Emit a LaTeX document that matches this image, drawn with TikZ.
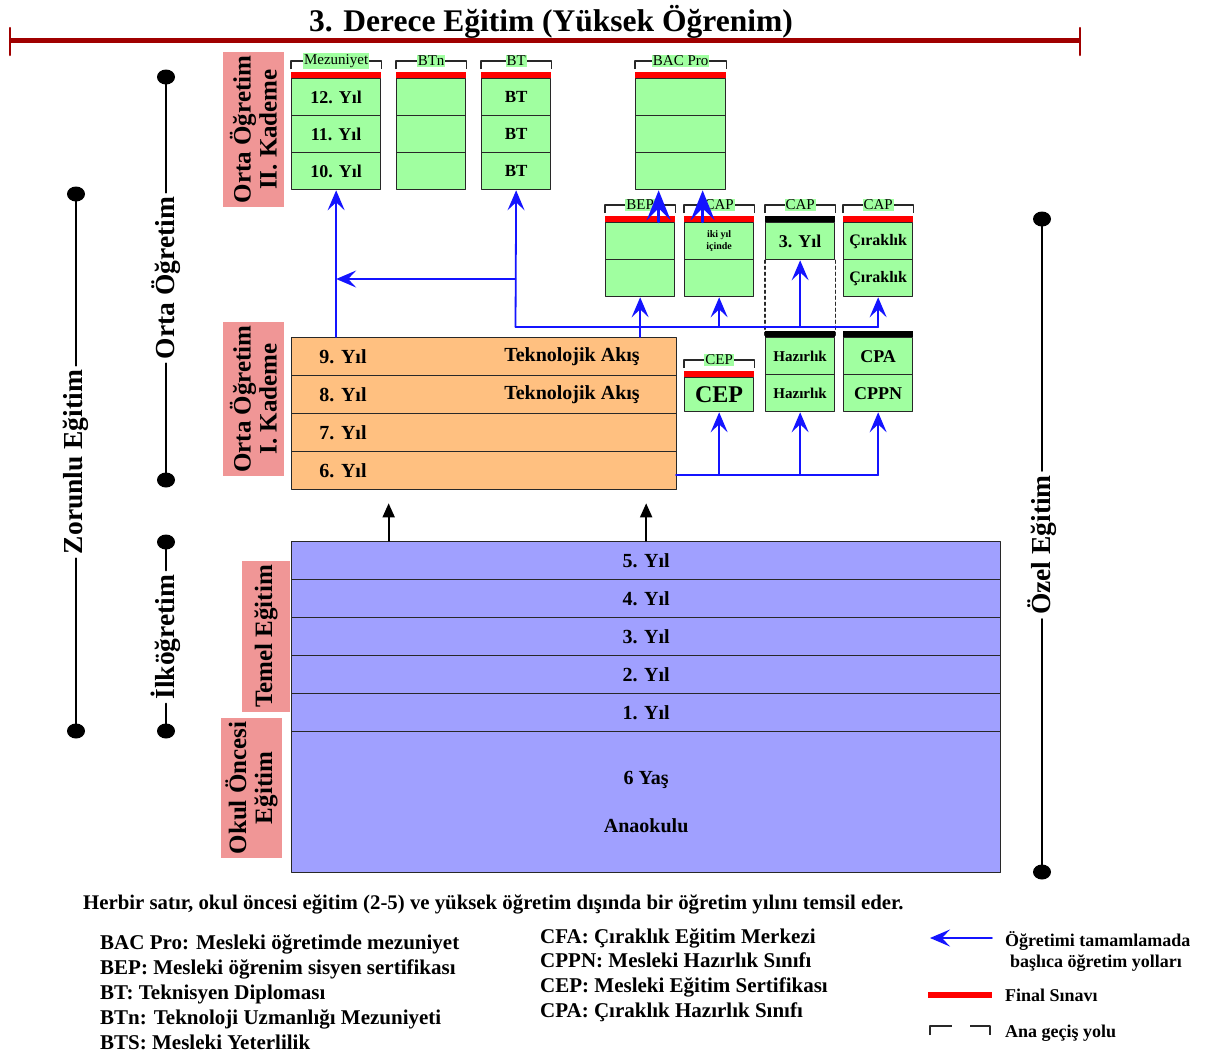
\documentclass[tikz,border=0pt]{standalone}
\usepackage{fontspec}
\setmainfont{Liberation Serif}
\usetikzlibrary{arrows.meta}
\definecolor{SchoolDarkRed}{RGB}{160,0,0}
\definecolor{SchoolPink}{RGB}{240,150,150}
\definecolor{SchoolGreen}{RGB}{160,255,160}
\definecolor{SchoolOrange}{RGB}{255,192,128}
\definecolor{SchoolLilac}{RGB}{160,160,255}
\definecolor{SchoolRed}{RGB}{255,0,0}
\definecolor{SchoolBlue}{RGB}{20,20,255}
\definecolor{SchoolLine}{RGB}{40,40,40}

\begin{document}
\begin{tikzpicture}[x=1bp,y=-1bp,line cap=round,line join=round]
  \path[use as bounding box] (0,0) rectangle (1205,1054);
  \fill[white] (0,0) rectangle (1205,1054);

  \tikzset{
    greencell/.style={draw=SchoolLine,line width=1.3bp,fill=SchoolGreen,inner sep=0pt,
      anchor=north west,minimum height=37bp,align=center,
      font=\fontsize{18bp}{18bp}\selectfont\bfseries},
    bandcell/.style={greencell,fill=SchoolOrange,minimum width=385bp,minimum height=38bp},
    basecell/.style={greencell,fill=SchoolLilac,minimum width=709bp,minimum height=38bp,
      font=\fontsize{20bp}{20bp}\selectfont\bfseries},
    yeartext/.style={inner sep=0pt,font=\fontsize{20bp}{20bp}\selectfont\bfseries},
    stagetag/.style={fill=SchoolPink,rotate=90,inner sep=0pt,align=center,
      font=\fontsize{25bp}{26bp}\selectfont\bfseries},
    sidetag/.style={rotate=90,inner sep=4bp,font=\fontsize{27.5bp}{27.5bp}\selectfont\bfseries},
    scalebar/.style={line width=2bp,draw=black},
    gate/.style={line width=1.6bp,draw=SchoolLine,line cap=butt},
    gatetag/.style={fill=SchoolGreen,inner sep=1bp,font=\fontsize{15bp}{15bp}\selectfont},
    pathline/.style={draw=SchoolBlue,line width=1.8bp},
    pathway/.style={pathline,-{Stealth[length=20bp,width=17bp,inset=8bp]}},
    bigpathway/.style={pathline,line width=2.4bp,-{Stealth[length=30bp,width=24bp,inset=12bp]}},
    stagearrow/.style={draw=black,line width=1.8bp,-{Triangle[length=14bp,width=12bp]},
      shorten >=13bp},
    legend/.style={anchor=base west,inner sep=0pt,
      font=\fontsize{21bp}{21bp}\selectfont\bfseries},
    keytext/.style={anchor=base west,inner sep=0pt,
      font=\fontsize{18bp}{18bp}\selectfont\bfseries},
  }

  % 3. Derece
  \node[inner sep=0pt,font=\fontsize{31.5bp}{31.5bp}\selectfont\bfseries] (degree)
    at (551,22) {3. Derece Eğitim (Yüksek Öğrenim)};
  \coordinate (degL) at (10,40);
  \coordinate (degR) at (1080,40);
  \draw[SchoolDarkRed,line width=5bp,line cap=butt] (degL) -- (degR);
  \draw[SchoolDarkRed,line width=2.5bp] ([yshift=12bp]degL) -- ([yshift=-15bp]degL);
  \draw[SchoolDarkRed,line width=2.5bp] ([yshift=12bp]degR) -- ([yshift=-15bp]degR);

  % side scales
  \foreach \name/\x/\top/\mid/\bot/\txt in {zorunlu/76/194/462/731/Zorunlu Eğitim,
      orta/166/77/278/480/Orta Öğretim,ilk/166/542/637/731/İlköğretim,
      ozel/1042/219/545/872/Özel Eğitim} {
    \coordinate (\name-top) at (\x,\top);
    \coordinate (\name-bot) at (\x,\bot);
    \node[sidetag] (\name) at (\x,\mid) {\txt};
    \draw[scalebar] (\name-top) -- (\name.east) (\name.west) -- (\name-bot);
    \fill (\name-top) circle[x radius=9bp,y radius=7.5bp];
    \fill (\name-bot) circle[x radius=9bp,y radius=7.5bp];
  }

  % stage tags
  \node[stagetag,minimum width=155bp,minimum height=61bp] (ortaII)
    at (253.5,129.5) {Orta Öğretim\\II. Kademe};
  \node[stagetag,minimum width=154bp,minimum height=61bp] (ortaI)
    at (253.5,399) {Orta Öğretim\\I. Kademe};
  \node[stagetag,minimum width=151bp,minimum height=48bp] (temel)
    at (266,636.5) {Temel Eğitim};
  \node[stagetag,minimum width=140bp,minimum height=61bp] (okul)
    at (251.5,788) {Okul Öncesi\\Eğitim};

  % upper columns
  \foreach \name/\row/\txt in {mez12/0/12. Yıl,mez11/1/11. Yıl,mez10/2/10. Yıl}
    \node[greencell,minimum width=89bp] (\name) at (291,{78+37*\row}) {\txt};
  \foreach \name/\row in {btn1/0,btn2/1,btn3/2}
    \node[greencell,minimum width=69bp] (\name) at (396,{78+37*\row}) {};
  \foreach \name/\row in {bt1/0,bt2/1,bt3/2}
    \node[greencell,minimum width=69bp,font=\fontsize{17bp}{17bp}\selectfont\bfseries]
      (\name) at (481,{78+37*\row}) {BT};
  \foreach \name/\row in {bac1/0,bac2/1,bac3/2}
    \node[greencell,minimum width=90bp] (\name) at (635,{78+37*\row}) {};

  % vocational columns
  \node[greencell,minimum width=69bp] (bep1) at (605,222) {};
  \node[greencell,minimum width=69bp] (bep2) at (605,259) {};
  \node[greencell,minimum width=69bp,font=\fontsize{10bp}{12bp}\selectfont\bfseries]
    (capA1) at (684,222) {iki yıl\\içinde};
  \node[greencell,minimum width=69bp] (capA2) at (684,259) {};
  \node[greencell,minimum width=69bp] (cap3) at (765,222) {3. Yıl};
  \node[greencell,minimum width=69bp,font=\fontsize{16bp}{16bp}\selectfont\bfseries]
    (capC1) at (843,222) {Çıraklık};
  \node[greencell,minimum width=69bp,font=\fontsize{16bp}{16bp}\selectfont\bfseries]
    (capC2) at (843,259) {Çıraklık};
  \node[greencell,minimum width=69bp,minimum height=34bp,
    font=\fontsize{24bp}{24bp}\selectfont\bfseries] (cep) at (684,377) {CEP};
  \node[greencell,minimum width=69bp,font=\fontsize{15bp}{15bp}\selectfont\bfseries]
    (haz1) at (765,337) {Hazırlık};
  \node[greencell,minimum width=69bp,font=\fontsize{15bp}{15bp}\selectfont\bfseries]
    (haz2) at (765,374) {Hazırlık};
  \node[greencell,minimum width=69bp] (cpa) at (843,337) {CPA};
  \node[greencell,minimum width=69bp] (cppn) at (843,374) {CPPN};
  \draw[SchoolLine,line width=1.3bp,dash pattern=on 3bp off 3bp]
    (cap3.south west) -- (haz1.north west) (cap3.south east) -- (haz1.north east);

  % final exams and gates
  \foreach \c in {mez12,btn1,bt1,bac1,bep1,capA1,capC1,cep}
    \fill[SchoolRed] (\c.north west) rectangle ([yshift=6bp]\c.north east);
  \foreach \c in {cap3,haz1,cpa}
    \fill[black] (\c.north west) rectangle ([yshift=6bp]\c.north east);
  \foreach \c/\lab in {mez12/Mezuniyet,btn1/BTn,bt1/BT,bac1/BAC Pro,bep1/BEP,
      capA1/CAP,cap3/CAP,capC1/CAP,cep/CEP} {
    \draw[gate] ([yshift=9bp]\c.north west) |- ([yshift=17bp]\c.north)
      -| ([yshift=9bp]\c.north east);
    \node[gatetag] (\c-tag) at ([yshift=17bp]\c.north) {\lab};
  }

  % Orta Öğretim I
  \foreach \name/\row in {og9/0,og8/1,og7/2,og6/3}
    \node[bandcell] (\name) at (291,{337+38*\row}) {};
  \foreach \name/\txt in {og9/9. Yıl,og8/8. Yıl,og7/7. Yıl,og6/6. Yıl}
    \node[yeartext] (\name-yr) at ([xshift=52bp]\name.west) {\txt};
  \node[yeartext] (og9-flow) at ([xshift=281bp]og9.west) {Teknolojik Akış};
  \node[yeartext] (og8-flow) at ([xshift=281bp]og8.west) {Teknolojik Akış};

  % Temel Eğitim
  \foreach \name/\row/\txt in {t5/0/5. Yıl,t4/1/4. Yıl,t3/2/3. Yıl,t2/3/2. Yıl,t1/4/1. Yıl}
    \node[basecell] (\name) at (291,{541+38*\row}) {\txt};
  \node[basecell,minimum height=141bp] (ana) at (291,731) {6 Yaş\\[28bp]Anaokulu};

  \coordinate (riseL) at ([xshift=-257.5bp]t5.north);
  \draw[stagearrow] (riseL) -- (riseL |- og6.south);
  \draw[stagearrow] (t5.north) -- (t5.north |- og6.south);

  % pathways
  \coordinate (split) at (515.5,327);
  \coordinate (bend) at (515.5,279);
  \coordinate (feed) at (676,475);
  \coordinate (bacL) at ([xshift=-22bp]bac3.south);
  \coordinate (bacR) at ([xshift=22bp]bac3.south);
  \draw[pathway] (og9.north -| mez10.south) -- (mez10.south);
  \draw[pathway] (split) -- (bt3.south);
  \draw[pathway] (bend) -- (bend -| mez10.south);
  \draw[pathline] (split) -- (split -| capC2.south);
  \draw[pathway] (og9.north -| bep2.south) -- (bep2.south);
  \draw[pathway] (split -| capA2.south) -- (capA2.south);
  \draw[pathway] (split -| cap3.south) -- (cap3.south);
  \draw[pathway] (split -| capC2.south) -- (capC2.south);
  \draw[bigpathway] (bacL |- bep1.north) -- (bacL);
  \draw[bigpathway] (bacR |- capA1.north) -- (bacR);
  \draw[pathline] (feed) -- (feed -| cppn.south);
  \draw[pathway] (feed -| cep.south) -- (cep.south);
  \draw[pathway] (feed -| haz2.south) -- (haz2.south);
  \draw[pathway] (feed -| cppn.south) -- (cppn.south);

  % legend
  \node[legend,font=\fontsize{20.8bp}{20.8bp}\selectfont\bfseries] (note) at (83,909)
    {Herbir satır, okul öncesi eğitim (2-5) ve yüksek öğretim dışında bir öğretim yılını temsil eder.};
  \foreach \name/\y/\txt in {bac/949/BAC Pro: Mesleki öğretimde mezuniyet,
      bep/974/BEP: Mesleki öğrenim sisyen sertifikası,bt/999/BT: Teknisyen Diploması,
      btn/1024/BTn: Teknoloji Uzmanlığı Mezuniyeti,bts/1049/BTS: Mesleki Yeterlilik}
    \node[legend] (key-\name) at (100,\y) {\txt};
  \foreach \name/\y/\txt in {cfa/943/CFA: Çıraklık Eğitim Merkezi,
      cppn/967/CPPN: Mesleki Hazırlık Sınıfı,cep/992/CEP: Mesleki Eğitim Sertifikası,
      cpa/1017/CPA: Çıraklık Hazırlık Sınıfı}
    \node[legend] (key-\name) at (540,\y) {\txt};

  \coordinate (keyArrowR) at (992,938);
  \coordinate (keyArrowL) at (930,938);
  \draw[pathway] (keyArrowR) -- (keyArrowL);
  \node[keytext] (key-path1) at (1005,946) {Öğretimi tamamlamada};
  \node[keytext] (key-path2) at (1010,967) {başlıca öğretim yolları};
  \coordinate (keyExamL) at (928,995);
  \coordinate (keyExamR) at (992,995);
  \draw[SchoolRed,line width=6bp,line cap=butt] (keyExamL) -- (keyExamR);
  \node[keytext] (key-exam) at (1005,1001) {Final Sınavı};
  \draw[gate] (930,1035) |- (952,1026);
  \draw[gate] (970,1026) -| (990,1035);
  \node[keytext] (key-gate) at (1005,1037) {Ana geçiş yolu};
\end{tikzpicture}
\end{document}
